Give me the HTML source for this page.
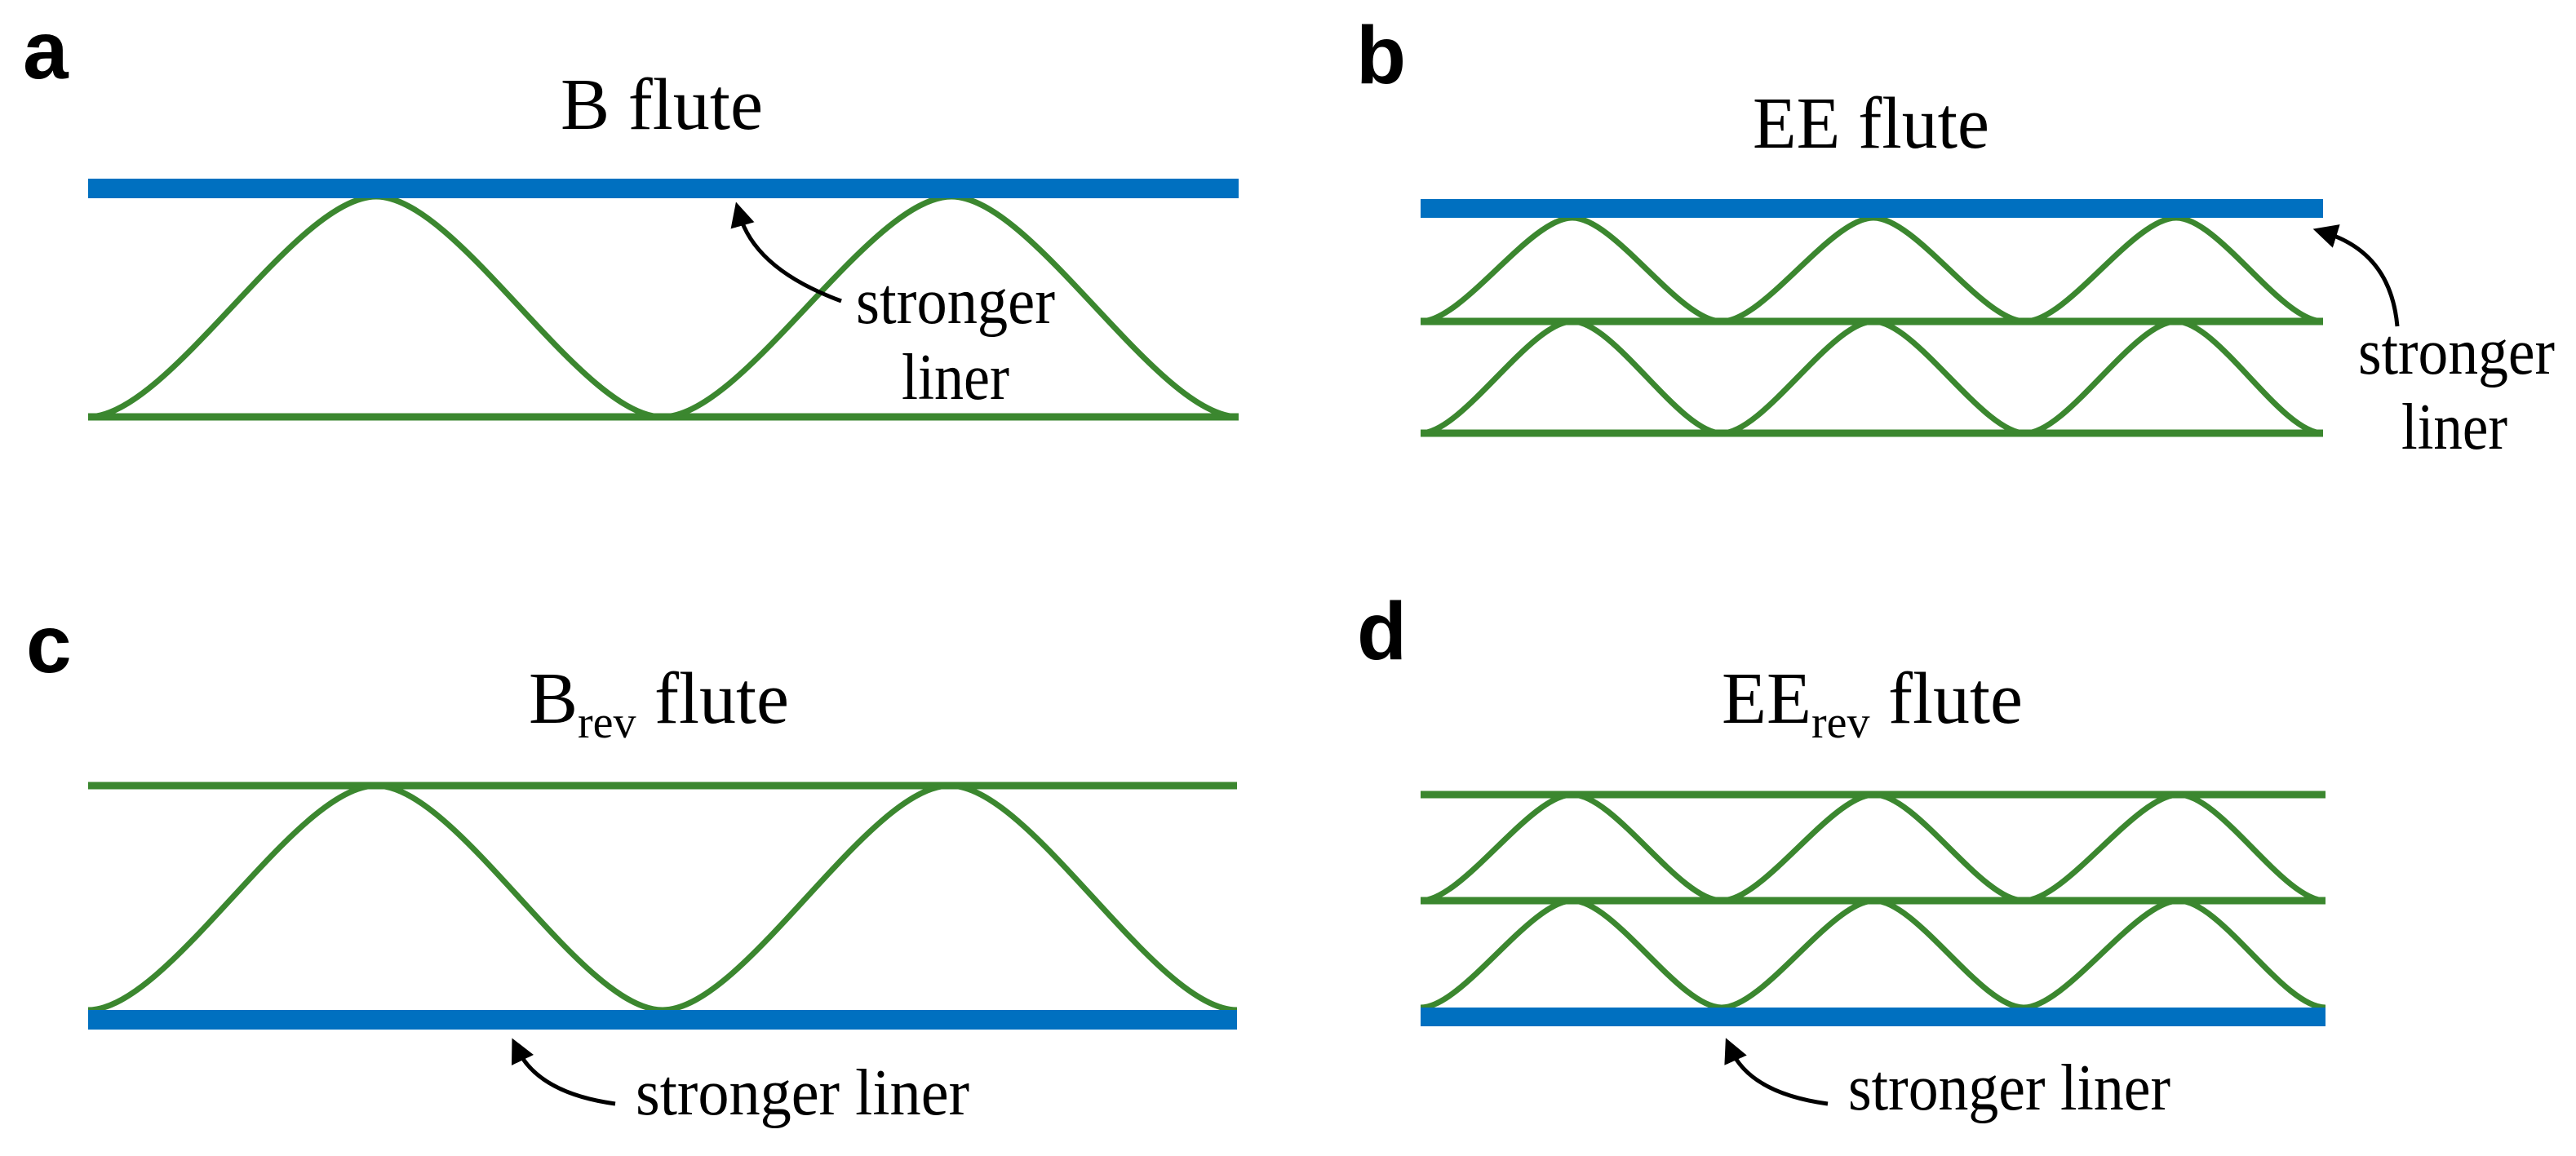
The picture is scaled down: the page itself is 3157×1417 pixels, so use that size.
<!DOCTYPE html>
<html><head><meta charset="utf-8"><style>
html,body{margin:0;padding:0;background:#fff;}
svg{display:block;}
.g{fill:none;stroke:#3b872f;stroke-width:7;}
.gl{stroke:#3b872f;stroke-width:9;}
.ar{fill:none;stroke:#000;stroke-width:5;}
</style></head><body>
<svg width="3157" height="1417" viewBox="0 0 3157 1417" xmlns="http://www.w3.org/2000/svg">
<defs>
<marker id="ah" markerWidth="6" markerHeight="6" refX="3" refY="3" orient="auto" markerUnits="strokeWidth">
<path d="M0,0 L6,3 L0,6 Z" fill="#000"/>
</marker>
</defs>
<rect width="3157" height="1417" fill="#fff"/>

<g font-family="Liberation Sans, sans-serif" font-weight="bold" font-size="100" fill="#000">
<text x="28" y="96">a</text>
<text x="1662" y="102">b</text>
<text x="32" y="824">c</text>
<text x="1663" y="808">d</text>
</g>

<g font-family="Liberation Serif, serif" font-size="90" fill="#000">
<text x="687" y="158" textLength="248" lengthAdjust="spacingAndGlyphs">B flute</text>
<text x="2148" y="181" textLength="290" lengthAdjust="spacingAndGlyphs">EE flute</text>
<text x="648" y="886">B<tspan font-size="56" dy="18">rev</tspan><tspan dy="-18"> flute</tspan></text>
<text x="2110" y="886">EE<tspan font-size="56" dy="18">rev</tspan><tspan dy="-18"> flute</tspan></text>
</g>

<g font-family="Liberation Serif, serif" font-size="80" fill="#000">
<text x="1049" y="396" textLength="244" lengthAdjust="spacingAndGlyphs">stronger</text>
<text x="1105" y="489" textLength="132" lengthAdjust="spacingAndGlyphs">liner</text>
<text x="2890" y="458" textLength="241" lengthAdjust="spacingAndGlyphs">stronger</text>
<text x="2943" y="550" textLength="130" lengthAdjust="spacingAndGlyphs">liner</text>
<text x="779" y="1366" textLength="409" lengthAdjust="spacingAndGlyphs">stronger liner</text>
<text x="2265" y="1360" textLength="395" lengthAdjust="spacingAndGlyphs">stronger liner</text>
</g>

<!-- Panel a -->
<line class="gl" x1="108" y1="511" x2="1518" y2="511"/>
<path class="g" d="M108,511 C208,511 361,241 461,241 C561,241 712,511 812,511 C912,511 1066,241 1166,241 C1266,241 1418,511 1518,511"/>
<rect x="108" y="219" width="1410" height="24" fill="#0070c0"/>
<path class="ar" d="M1031,369 Q925,330 906,262" marker-end="url(#ah)"/>

<!-- Panel b -->
<line class="gl" x1="1741" y1="394" x2="2847" y2="394"/>
<line class="gl" x1="1741" y1="531" x2="2847" y2="531"/>
<path class="g" d="M1741,394 C1793,394 1875,267 1927,267 C1979,267 2058,394 2110,394 C2162,394 2244,267 2296,267 C2348,267 2430,394 2482,394 C2534,394 2615,267 2667,267 C2719,267 2795,394 2847,394"/>
<path class="g" d="M1741,531 C1793,531 1875,394 1927,394 C1979,394 2058,531 2110,531 C2162,531 2244,394 2296,394 C2348,394 2430,531 2482,531 C2534,531 2615,394 2667,394 C2719,394 2795,531 2847,531"/>
<rect x="1741" y="244" width="1106" height="23" fill="#0070c0"/>
<path class="ar" d="M2938,400 Q2930,310 2849,285" marker-end="url(#ah)"/>

<!-- Panel c -->
<line class="gl" x1="108" y1="963" x2="1516" y2="963"/>
<path class="g" d="M108,1238 C208,1238 361,963 461,963 C561,963 712,1238 812,1238 C912,1238 1064,963 1164,963 C1264,963 1416,1238 1516,1238"/>
<rect x="108" y="1238" width="1408" height="24" fill="#0070c0"/>
<path class="ar" d="M754,1353 Q660,1340 634,1286" marker-end="url(#ah)"/>

<!-- Panel d -->
<line class="gl" x1="1741" y1="974" x2="2850" y2="974"/>
<line class="gl" x1="1741" y1="1104" x2="2850" y2="1104"/>
<path class="g" d="M1741,1104 C1793,1104 1875,974 1927,974 C1979,974 2058,1104 2110,1104 C2162,1104 2245,974 2297,974 C2349,974 2428,1104 2480,1104 C2532,1104 2618,974 2670,974 C2722,974 2798,1104 2850,1104"/>
<path class="g" d="M1741,1235 C1793,1235 1875,1104 1927,1104 C1979,1104 2058,1235 2110,1235 C2162,1235 2245,1104 2297,1104 C2349,1104 2428,1235 2480,1235 C2532,1235 2618,1104 2670,1104 C2722,1104 2798,1235 2850,1235"/>
<rect x="1741" y="1235" width="1109" height="23" fill="#0070c0"/>
<path class="ar" d="M2240,1353 Q2145,1340 2121,1286" marker-end="url(#ah)"/>
</svg>
</body></html>
